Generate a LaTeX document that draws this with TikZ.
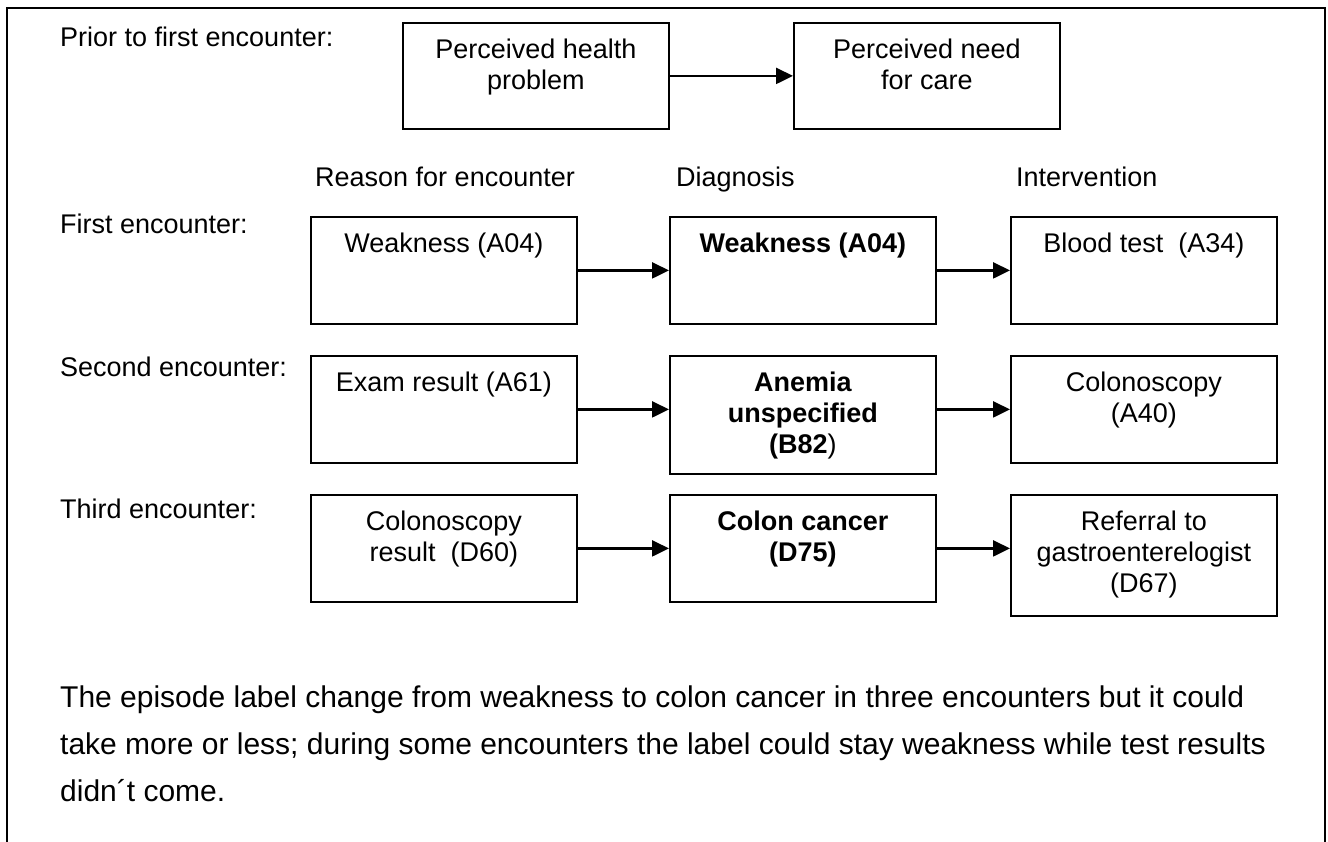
\documentclass[tikz,border=0pt]{standalone}
\usepackage{fontspec}
\setmainfont{Liberation Sans}
\usetikzlibrary{arrows.meta,positioning}

\newcommand{\celltext}[2]{\begin{minipage}[c][#1][t]{266pt}\centering\vspace*{14.3pt}\strut #2\end{minipage}}

\begin{document}
\begin{tikzpicture}[x=1pt,y=-1pt,font=\fontsize{27}{31}\selectfont,
  >={Triangle[length=17pt,width=16pt]}]
  \tikzstyle{box}=[rectangle,draw=black,line width=1.8pt,inner sep=0pt,anchor=north west]
  \tikzstyle{heading}=[anchor=base west,inner sep=0pt]
  \tikzstyle{flow}=[line width=2.4pt,shorten >=0pt]

  \useasboundingbox (0,0) rectangle (1328,842);
  \draw[line width=1.8pt] (7,842) -- (7,8) -- (1325,8) -- (1325,842);

  % row labels and column headings
  \node[heading] (prior)  at (60,47)  {Prior to first encounter:};
  \node[heading] (first)  at (60,234) {First encounter:};
  \node[heading] (second) at (60,376) {Second encounter:};
  \node[heading] (third)  at (60,518) {Third encounter:};
  \node[heading] (reason) at (315,187)  {Reason for encounter};
  \node[heading] (diag)   at (676,187)  {Diagnosis};
  \node[heading] (interv) at (1016,187) {Intervention};

  % before the first encounter
  \node[box] (problem) at (402,22) {\celltext{106pt}{Perceived health\\problem}};
  \node[box] (need)    at (793,22) {\celltext{106pt}{Perceived need\\for care}};

  % encounters
  \node[box] (ra1) at (310,216)  {\celltext{107pt}{Weakness (A04)}};
  \node[box] (dg1) at (669,216)  {\celltext{107pt}{\textbf{Weakness (A04)}}};
  \node[box] (iv1) at (1010,216) {\celltext{107pt}{Blood test\ \ (A34)}};

  \node[box] (ra2) at (310,355)  {\celltext{107pt}{Exam result (A61)}};
  \node[box] (dg2) at (669,355)  {\celltext{118pt}{\textbf{Anemia}\\\textbf{unspecified}\\\textbf{(B82})}};
  \node[box] (iv2) at (1010,355) {\celltext{107pt}{Colonoscopy\\(A40)}};

  \node[box] (ra3) at (310,494)  {\celltext{107pt}{Colonoscopy\\result\ \ (D60)}};
  \node[box] (dg3) at (669,494)  {\celltext{107pt}{\textbf{Colon cancer}\\\textbf{(D75)}}};
  \node[box] (iv3) at (1010,494) {\celltext{121pt}{Referral to\\gastroenterelogist\\(D67)}};

  \path[->,flow] (problem.east) edge (need.west);
  \path[->,flow] (ra1.east) edge (dg1.west);
  \path[->,flow] (dg1.east) edge (iv1.west);
  \path[->,flow] (ra2.east) edge (ra2.east -| dg2.west);
  \path[->,flow] (dg2.east |- iv2.west) edge (iv2.west);
  \path[->,flow] (ra3.east) edge (dg3.west);
  \path[->,flow] (dg3.east) edge (dg3.east -| iv3.west);

  \node[anchor=north west,inner sep=0pt,align=left,font=\fontsize{30}{47}\selectfont] (note) at (60,686)
    {The episode label change from weakness to colon cancer in three encounters but it could\\
     take more or less; during some encounters the label could stay weakness while test results\\
     didn´t come.};
\end{tikzpicture}
\end{document}
